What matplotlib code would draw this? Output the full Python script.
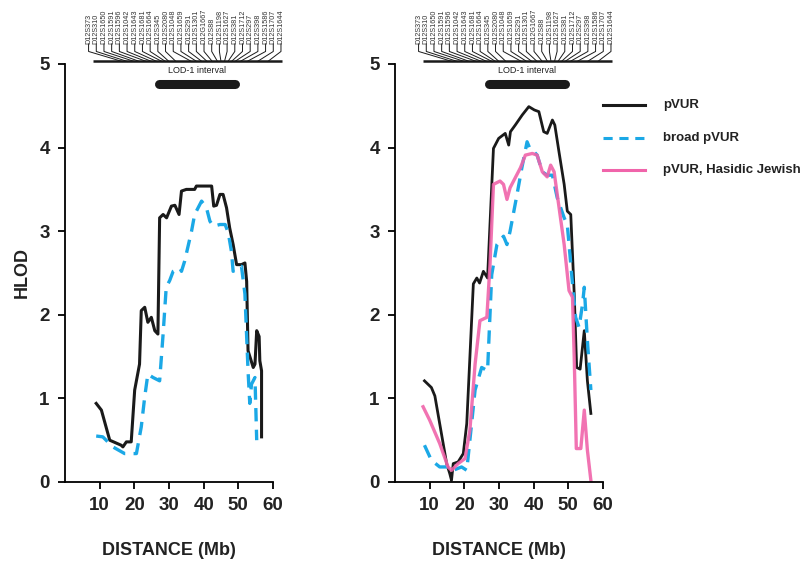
import numpy as np
import matplotlib
matplotlib.use("Agg")
import matplotlib.pyplot as plt

plt.rcParams['font.family'] = ['Liberation Sans', 'DejaVu Sans']

# left panel
left_pvur_x = [9.0, 10.5, 12.9, 16.2, 16.7, 17.7, 19.1, 20.1, 21.5, 22.0, 23.0, 23.9, 24.9, 25.9, 26.8,
               27.3, 28.3, 29.3, 30.7, 31.7, 32.9, 33.6, 35.0, 37.4, 37.9, 42.3, 42.9, 43.7, 44.7, 45.6,
               46.6, 47.5, 48.5, 49.5, 50.9, 51.9, 52.4, 52.8, 54.3, 54.8, 55.3, 56.0, 56.2, 56.7, 56.7]
left_pvur_y = [0.94, 0.86, 0.50, 0.44, 0.42, 0.48, 0.48, 1.10, 1.41, 2.05, 2.09, 1.91, 1.97, 1.81, 1.77,
               3.16, 3.20, 3.16, 3.30, 3.31, 3.20, 3.48, 3.50, 3.50, 3.54, 3.54, 3.30, 3.31, 3.44, 3.44,
               3.28, 3.04, 2.84, 2.60, 2.60, 2.62, 2.40, 1.57, 1.37, 1.41, 1.81, 1.74, 1.45, 1.33, 0.54]

left_broad_x = [9.0, 10.9, 13.8, 17.2, 20.6, 22.0, 23.0, 23.9, 25.4, 27.3, 28.3, 29.2, 30.2, 31.2, 33.1,
                33.6, 34.5, 36.5, 37.4, 39.4, 40.8, 41.8, 42.8, 44.7, 46.2, 47.1, 48.0, 48.5, 49.9, 50.9,
                51.9, 52.8, 53.3, 53.8, 54.8, 55.3]
left_broad_y = [0.55, 0.54, 0.42, 0.34, 0.34, 0.66, 1.02, 1.29, 1.25, 1.21, 1.77, 2.33, 2.41, 2.52, 2.56,
                2.52, 2.64, 3.00, 3.20, 3.36, 3.28, 3.12, 3.06, 3.08, 3.08, 2.98, 2.76, 2.52, 2.56, 2.58,
                2.25, 1.33, 0.94, 1.17, 1.25, 0.50]

# right panel
right_pvur_x = [8.5, 10.5, 11.5, 14.9, 15.8, 16.3, 16.8, 18.2, 19.7, 20.7, 21.6, 22.6, 23.6, 24.4, 25.5,
                26.7, 27.4, 28.4, 29.9, 31.8, 32.8, 33.3, 34.7, 36.7, 38.6, 40.2, 41.5, 42.9, 43.9, 45.4,
                46.1, 47.3, 48.8, 49.7, 50.7, 51.7, 52.4, 53.4, 54.6, 55.5, 56.5]
right_pvur_y = [1.21, 1.13, 1.03, 0.22, 0.10, 0.02, 0.22, 0.24, 0.34, 0.70, 1.49, 2.37, 2.44, 2.38, 2.52,
                2.44, 3.08, 3.99, 4.11, 4.17, 4.03, 4.19, 4.27, 4.39, 4.49, 4.45, 4.43, 4.19, 4.17, 4.33,
                4.27, 3.95, 3.56, 3.24, 3.20, 2.25, 1.37, 1.35, 1.81, 1.21, 0.82]

right_broad_x = [8.5, 10.5, 12.9, 15.3, 16.8, 19.2, 20.7, 21.6, 23.1, 25.0, 26.7, 27.2, 27.9, 29.4, 31.3,
                 32.3, 33.2, 35.2, 36.6, 38.1, 39.1, 40.1, 41.0, 42.5, 43.9, 45.4, 46.8, 48.8, 49.7, 51.2,
                 52.1, 53.1, 54.1, 54.6, 55.5, 56.5]
right_broad_y = [0.44, 0.26, 0.18, 0.18, 0.14, 0.18, 0.14, 0.50, 1.10, 1.37, 1.33, 1.81, 2.48, 2.84, 2.94,
                 2.84, 3.00, 3.44, 3.76, 4.07, 3.97, 3.95, 3.91, 3.71, 3.67, 3.67, 3.40, 3.16, 3.08, 2.37,
                 1.97, 1.85, 2.13, 2.33, 1.69, 1.10]

right_hasidic_x = [8.1, 10.0, 12.9, 15.3, 16.3, 18.2, 20.2, 21.6, 23.1, 24.5, 26.5, 27.4, 28.4, 30.3, 31.3,
                   32.3, 33.2, 34.7, 36.2, 37.6, 39.6, 41.0, 42.5, 43.9, 44.9, 45.9, 46.8, 48.8, 50.2, 51.2,
                   51.7, 52.3, 53.6, 54.6, 55.5, 56.5]
right_hasidic_y = [0.90, 0.74, 0.46, 0.18, 0.14, 0.22, 0.28, 0.62, 1.41, 1.93, 1.97, 2.60, 3.56, 3.60, 3.56,
                   3.38, 3.52, 3.64, 3.76, 3.91, 3.93, 3.91, 3.71, 3.65, 3.79, 3.71, 3.44, 2.84, 2.29, 2.21,
                   1.49, 0.40, 0.40, 0.86, 0.38, 0.02]

markers = ["D12S373", "D12S310", "D12S1650", "D12S1591", "D12S1596", "D12S1042", "D12S1643",
           "D12S1681", "D12S1664", "D12S345", "D12S2080", "D12S1048", "D12S1659", "D12S291",
           "D12S1301", "D12G1667", "D12S88", "D12S1198", "D12S1627", "D12S381", "D12S1712",
           "D12S297", "D12S398", "D12S1586", "D12S1707", "D12S1644"]
marker_mb = [16.5, 18.0, 20.0, 21.5, 23.5, 25.0, 26.5, 28.0, 29.0, 30.0, 32.0, 36.5, 38.0, 39.5,
             41.0, 42.5, 44.0, 45.0, 46.0, 47.0, 48.0, 49.0, 50.5, 52.5, 55.5, 58.5]
lod1_interval = [27.0, 49.0]

BLACK = '#1a1a1a'
BLUE = '#1ba8e6'
PINK = '#f064aa'

fig = plt.figure(figsize=(8.11, 5.61), dpi=100)
axL = fig.add_axes([65 / 811, 79 / 561, 208 / 811, 418 / 561])
axR = fig.add_axes([395 / 811, 79 / 561, 208 / 811, 418 / 561])


def markers_top(ax):
    lx = np.linspace(6.8, 62.3, len(markers))
    for x, name, pos in zip(lx, markers, marker_mb):
        ax.text(x, 5.24, name, rotation=90, ha='center', va='bottom', fontsize=5.2,
                color='#333333', clip_on=False)
        ax.plot([x, x, pos], [5.24, 5.15, 5.03], color=BLACK, lw=0.7, clip_on=False)
    ax.plot([8.0, 62.5], [5.03, 5.03], color=BLACK, lw=1.8, clip_on=False, solid_capstyle='butt')
    ax.text(sum(lod1_interval) / 2, 4.92, "LOD-1 interval", ha='center', va='center', fontsize=6.5,
            color='#222222', clip_on=False)
    ax.plot(lod1_interval, [4.76, 4.76], color=BLACK, lw=6.5, solid_capstyle='round', clip_on=False)


for ax in (axL, axR):
    ax.set_xlim(0, 60)
    ax.set_ylim(0, 5)
    ax.spines['top'].set_visible(False)
    ax.spines['right'].set_visible(False)
    ax.spines['left'].set_linewidth(1.3)
    ax.spines['bottom'].set_linewidth(1.3)
    ax.set_xticks([10, 20, 30, 40, 50, 60])
    ax.set_yticks([0, 1, 2, 3, 4, 5])
    ax.tick_params(direction='out', length=5, width=1.3, labelsize=13.5, pad=6)
    for lab in ax.get_xticklabels() + ax.get_yticklabels():
        lab.set_fontweight('bold')
        lab.set_color('#222222')
    ax.set_xlabel("DISTANCE (Mb)", fontsize=13, fontweight='bold', labelpad=20, color='#222222')
    markers_top(ax)

axL.set_ylabel("HLOD", fontsize=13, fontweight='bold', labelpad=6, color='#222222')

axL.plot(left_pvur_x, left_pvur_y, color=BLACK, lw=2.2)
axL.plot(left_broad_x, left_broad_y, color=BLUE, lw=2.4, dashes=(4, 2.5))

axR.plot(right_pvur_x, right_pvur_y, color=BLACK, lw=2.0)
axR.plot(right_broad_x, right_broad_y, color=BLUE, lw=2.4, dashes=(4, 2.5))
axR.plot(right_hasidic_x, right_hasidic_y, color=PINK, lw=2.4, alpha=0.9)

# legend drawn by hand at right edge
legend_items = [("pVUR", BLACK, '-'), ("broad pVUR", BLUE, '--'), ("pVUR, Hasidic Jewish", PINK, '-')]
for i, (lab, col, ls) in enumerate(legend_items):
    yy = 1 - (105 + 32.5 * i) / 561
    kw = dict(dashes=(3, 2.2)) if ls == '--' else {}
    fig.add_artist(plt.Line2D([603 / 811, 645 / 811], [yy, yy], color=col, lw=2.2, **kw))
    fig.text(663 / 811, yy, lab, fontsize=9.5, fontweight='bold', va='center', ha='left', color='#222222')

fig.savefig("out.png", dpi=100)
